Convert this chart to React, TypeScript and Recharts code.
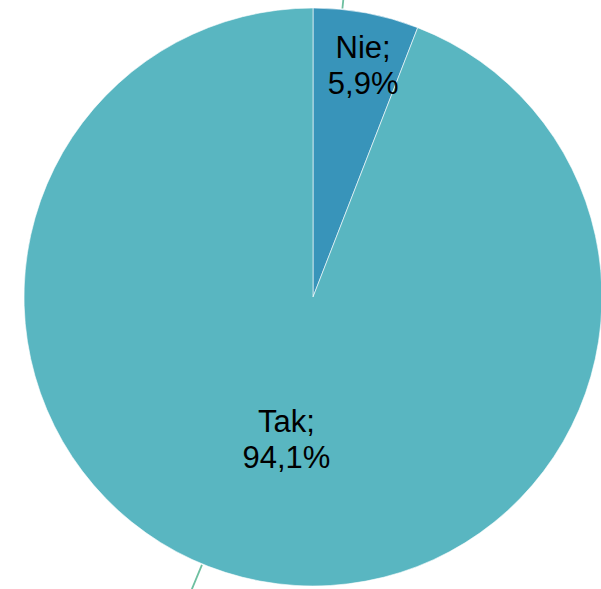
import React from "react";
import { PieChart, Pie, Cell } from "recharts";

const categories = ["Nie", "Tak"];
const values = [5.9, 94.1];
const labels = ["5,9%", "94,1%"];
const colors = ["#3894BA", "#59B6C1"];

const data = categories.map((name, i) => ({ name, value: values[i], label: labels[i] }));

const RAD = Math.PI / 180;
const labelRadiusFactor = [0.82, 0.5];
const labelAngleOffset = [-1.6, 0];
const lineAngleOffset = [4.8, -11.9];

const renderLabel = (props: any) => {
  const { cx, cy, outerRadius, midAngle, index } = props;
  const r = outerRadius * labelRadiusFactor[index];
  const a = (midAngle + labelAngleOffset[index]) * RAD;
  const x = cx + r * Math.cos(-a);
  const y = cy + r * Math.sin(-a);
  return (
    <text
      x={x}
      y={y}
      textAnchor="middle"
      fill="#000"
      fontSize={31}
      fontFamily="'Liberation Sans', Arial, sans-serif"
    >
      <tspan x={x} dy={-7}>{data[index].name};</tspan>
      <tspan x={x} dy={36}>{data[index].label}</tspan>
    </text>
  );
};

const renderLine = (props: any) => {
  const { cx, cy, outerRadius, midAngle, index } = props;
  const a = (midAngle + lineAngleOffset[index]) * RAD;
  const r1 = outerRadius + 1;
  const r2 = outerRadius + 30;
  return (
    <path
      d={`M${cx + r1 * Math.cos(-a)},${cy + r1 * Math.sin(-a)}L${cx + r2 * Math.cos(-a)},${cy + r2 * Math.sin(-a)}`}
      stroke="#6DBFA0"
      strokeWidth={1.8}
      fill="none"
    />
  );
};

export default function App() {
  return (
    <div style={{ position: "fixed", left: 0, top: 0, width: 601, height: 589, background: "#fff" }}>
      <PieChart width={601} height={589} margin={{ top: 0, right: 0, bottom: 0, left: 0 }}>
        <Pie
          data={data}
          dataKey="value"
          nameKey="name"
          cx={313}
          cy={297}
          outerRadius={289}
          startAngle={90}
          endAngle={-270}
          stroke="#ffffff"
          strokeWidth={0.6}
          label={renderLabel}
          labelLine={renderLine}
          isAnimationActive={false}
        >
          {data.map((d, i) => (
            <Cell key={d.name} fill={colors[i]} />
          ))}
        </Pie>
      </PieChart>
    </div>
  );
}
